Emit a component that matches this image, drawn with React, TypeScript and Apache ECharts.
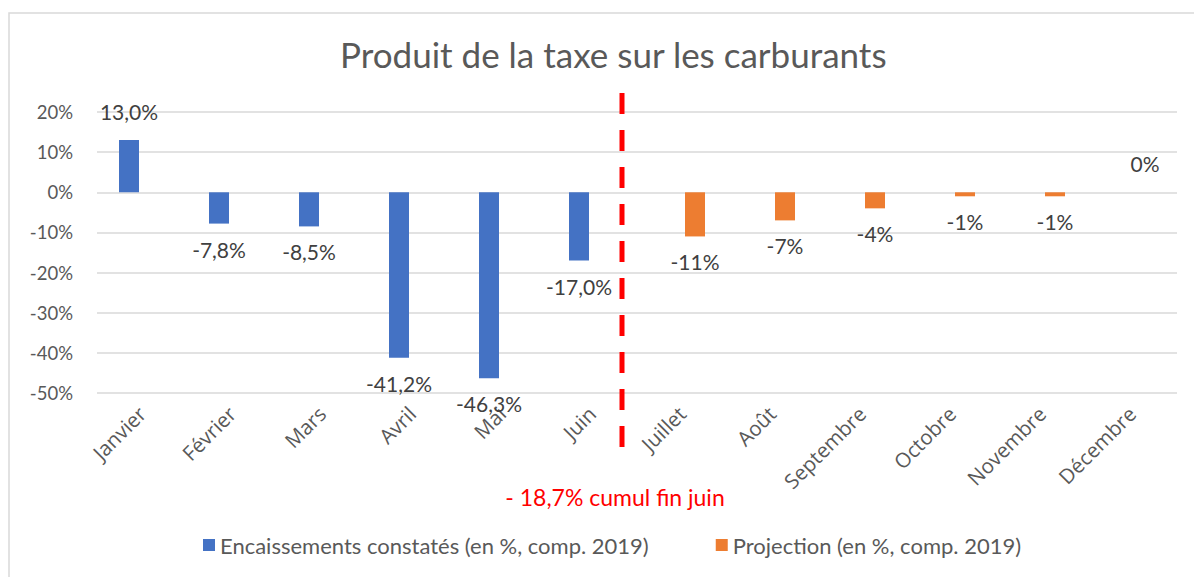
import React, { useEffect, useRef } from "react";
import * as echarts from "echarts";

const months = ["Janvier", "Février", "Mars", "Avril", "Mai", "Juin", "Juillet", "Août", "Septembre", "Octobre", "Novembre", "Décembre"];
const observed: (number | null)[] = [13.0, -7.8, -8.5, -41.2, -46.3, -17.0, null, null, null, null, null, null];
const projection: (number | null)[] = [null, null, null, null, null, null, -11, -7, -4, -1, -1, 0];
const seriesNames = ["Encaissements constatés (en %, comp. 2019)", "Projection (en %, comp. 2019)"];
const titleText = "Produit de la taxe sur les carburants";
const annotation = "- 18,7% cumul fin juin";

const FONT = "Lato, 'Noto Sans', sans-serif";
const XFONT = "'Open Sans', 'Noto Sans', sans-serif";

function toItems(vals: (number | null)[], decimals: number) {
  return vals.map((v) =>
    v === null
      ? null
      : {
          value: v,
          label: {
            position: v >= 0 ? "top" : "bottom",
            distance: v >= 0 ? 18 : 15,
            formatter: () => v.toFixed(decimals).replace(".", ",") + "%",
          },
        }
  );
}

export default function App() {
  const ref = useRef<HTMLDivElement>(null);
  useEffect(() => {
    document.body.style.margin = "0";
    const chart = echarts.init(ref.current!, null, { renderer: "svg" });
    const labelStyle = { show: true, color: "#404040", fontSize: 21, fontFamily: FONT };
    chart.setOption({
      animation: false,
      backgroundColor: "#ffffff",
      title: {
        text: titleText,
        left: 335,
        top: 31,
        textStyle: { color: "#595959", fontSize: 35, fontWeight: "normal", fontFamily: FONT },
      },
      grid: { left: 97, right: 17, top: 112, bottom: 184 },
      legend: {
        left: 198,
        top: 529,
        itemWidth: 12,
        itemHeight: 12,
        itemGap: 67,
        icon: "rect",
        textStyle: { color: "#595959", fontSize: 22, fontFamily: FONT },
        data: seriesNames,
      },
      xAxis: {
        type: "category",
        data: months,
        axisLine: { show: false },
        axisTick: { show: false },
        axisLabel: { rotate: 45, color: "#595959", fontSize: 20.5, fontFamily: XFONT, margin: 17, interval: 0 },
      },
      yAxis: {
        type: "value",
        min: -50,
        max: 20,
        interval: 10,
        axisLine: { show: false },
        axisTick: { show: false },
        splitLine: { lineStyle: { color: "#d9d9d9", width: 1.5 } },
        axisLabel: { color: "#595959", fontSize: 18.5, fontFamily: FONT, margin: 24, formatter: (v: number) => v + "%" },
      },
      series: [
        {
          name: seriesNames[0],
          type: "bar",
          data: toItems(observed, 1),
          barWidth: 20,
          barGap: "30%",
          itemStyle: { color: "#4472C4" },
          label: labelStyle,
        },
        {
          name: seriesNames[1],
          type: "bar",
          data: toItems(projection, 0),
          barWidth: 20,
          itemStyle: { color: "#ED7D31" },
          label: labelStyle,
        },
      ],
      graphic: [
        {
          type: "rect",
          shape: { x: 9, y: 13, width: 1300, height: 700 },
          style: { fill: "none", stroke: "#d9d9d9", lineWidth: 1.5 },
          silent: true,
          z: -1,
        },
        {
          type: "line",
          shape: { x1: 622, y1: 93, x2: 622, y2: 452 },
          style: { stroke: "#ff0000", lineWidth: 5, lineDash: [21, 16] },
          z: 10,
        },
        {
          type: "text",
          x: 615,
          y: 497,
          style: {
            text: annotation,
            fill: "#ff0000",
            font: `23px ${FONT}`,
            textAlign: "center",
            textVerticalAlign: "middle",
          },
        },
      ],
    });
    return () => chart.dispose();
  }, []);
  return <div ref={ref} style={{ width: 1194, height: 577 }} />;
}
